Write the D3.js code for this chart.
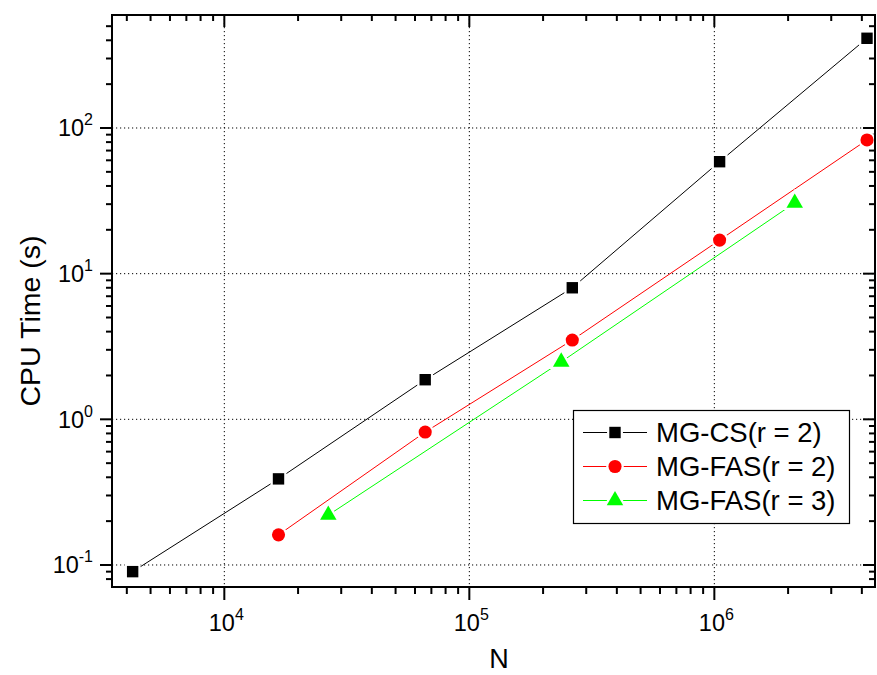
<!DOCTYPE html>
<html>
<head>
<meta charset="utf-8">
<script src="https://cdn.jsdelivr.net/npm/d3@7"></script>
<style>
  html, body { margin: 0; padding: 0; background: #fff; }
  svg { display: block; font-family: "Liberation Sans", Arial, sans-serif; }
</style>
</head>
<body>
<svg id="chart" width="877" height="675"></svg>
<script>
// ---- data ----
const nCS   = [4225, 16641, 66049, 263169, 1050625, 4198401];
const tCS   = [0.09, 0.39, 1.87, 8.0, 58.7, 413];
const nFAS2 = [16641, 66049, 263169, 1050625, 4198401];
const tFAS2 = [0.161, 0.818, 3.5, 17.0, 82.8];
const nFAS3 = [26569, 237169, 2128681];
const tFAS3 = [0.22, 2.48, 30.6];
const seriesNames = ["MG-CS(r = 2)", "MG-FAS(r = 2)", "MG-FAS(r = 3)"];
const xMajorExp = [4, 5, 6];
const yMajorExp = [-1, 0, 1, 2];
const xTitle = "N";
const yTitle = "CPU Time (s)";

// ---- layout ----
const W = 877, H = 675;
const L = 112, R = 875, T = 15, B = 587;
const svg = d3.select("#chart");

const x = d3.scaleLog().domain([3480, 4.526e6]).range([L, R]);
const y = d3.scaleLog().domain([0.0706, 596.7]).range([B, T]);

const series = [
  { name: seriesNames[0], n: nCS,   t: tCS,   color: "#000000", sym: d3.symbolSquare,   size: 130 },
  { name: seriesNames[1], n: nFAS2, t: tFAS2, color: "#ff0000", sym: d3.symbolCircle,   size: 135 },
  { name: seriesNames[2], n: nFAS3, t: tFAS3, color: "#00ff00", sym: d3.symbolTriangle, size: 118 }
];

// grid
const g = svg.append("g");
xMajorExp.forEach(e => {
  g.append("line").attr("x1", x(Math.pow(10, e))).attr("x2", x(Math.pow(10, e)))
    .attr("y1", T).attr("y2", B).attr("stroke", "#000").attr("stroke-width", 1)
    .attr("stroke-dasharray", "1.2,2.8");
});
yMajorExp.forEach(e => {
  g.append("line").attr("y1", y(Math.pow(10, e))).attr("y2", y(Math.pow(10, e)))
    .attr("x1", L).attr("x2", R).attr("stroke", "#000").attr("stroke-width", 1)
    .attr("stroke-dasharray", "1.2,2.8");
});

// ticks (major & minor)
function logTicks(dom) {
  const out = [];
  const lo = Math.floor(Math.log10(dom[0])), hi = Math.ceil(Math.log10(dom[1]));
  for (let e = lo; e <= hi; e++) {
    for (let m = 1; m <= 9; m++) {
      const v = m * Math.pow(10, e);
      if (v >= dom[0] * 0.9999 && v <= dom[1] * 1.0001) out.push({ v, major: m === 1 });
    }
  }
  return out;
}
const xt = logTicks(x.domain()), yt = logTicks(y.domain());
const axisG = svg.append("g").attr("stroke", "#000").attr("stroke-width", 2);
xt.forEach(d => {
  const len = d.major ? 13 : 7;
  const px = x(d.v);
  axisG.append("line").attr("x1", px).attr("x2", px).attr("y1", B).attr("y2", B + len); // bottom, outward
  axisG.append("line").attr("x1", px).attr("x2", px).attr("y1", T).attr("y2", T + len - 1); // top, inward
});
yt.forEach(d => {
  const len = d.major ? 12 : 6;
  const py = y(d.v);
  axisG.append("line").attr("y1", py).attr("y2", py).attr("x1", L).attr("x2", L - len); // left, outward
  axisG.append("line").attr("y1", py).attr("y2", py).attr("x1", R).attr("x2", R - len); // right, inward
});

// series lines
const line = d3.line().x(d => x(d[0])).y(d => y(d[1]));
const plot = svg.append("g");
series.forEach(s => {
  plot.append("path").datum(d3.zip(s.n, s.t)).attr("d", line)
    .attr("fill", "none").attr("stroke", s.color).attr("stroke-width", 1);
});
// markers with white halo (line gap)
series.forEach(s => {
  const sym = d3.symbol().type(s.sym).size(s.size);
  plot.selectAll(null).data(d3.zip(s.n, s.t)).enter().append("path")
    .attr("d", sym)
    .attr("transform", d => `translate(${x(d[0])},${y(d[1])})`)
    .attr("fill", s.color)
    .attr("stroke", "#fff").attr("stroke-width", 4.5)
    .attr("paint-order", "stroke");
});

// frame
svg.append("rect").attr("x", L).attr("y", T).attr("width", R - L).attr("height", B - T)
  .attr("fill", "none").attr("stroke", "#000").attr("stroke-width", 2);

// tick labels
const lab = svg.append("g").attr("fill", "#000");
xMajorExp.forEach(e => {
  const t = lab.append("text").attr("x", x(Math.pow(10, e)) + 2).attr("y", 631)
    .attr("text-anchor", "middle").attr("font-size", 23.5);
  t.append("tspan").text("10");
  t.append("tspan").attr("font-size", 16).attr("dy", -11).text(String(e));
});
yMajorExp.forEach(e => {
  const t = lab.append("text").attr("x", 93).attr("y", y(Math.pow(10, e)) + 8.5)
    .attr("text-anchor", "end").attr("font-size", 23.5);
  t.append("tspan").text("10");
  t.append("tspan").attr("font-size", 16).attr("dy", -11).text(String(e));
});

// axis titles
svg.append("text").attr("x", 499).attr("y", 668).attr("text-anchor", "middle")
  .attr("font-size", 27).text(xTitle);
svg.append("text").attr("transform", "translate(40,321) rotate(-90)")
  .attr("text-anchor", "middle").attr("font-size", 28.5).text(yTitle);

// legend
const lg = svg.append("g");
lg.append("rect").attr("x", 573.5).attr("y", 410.5).attr("width", 276).attr("height", 113)
  .attr("fill", "#fff").attr("stroke", "#000").attr("stroke-width", 1.2);
const rowY = [432.5, 466.5, 500.5];
series.forEach((s, i) => {
  const cy = rowY[i];
  lg.append("line").attr("x1", 583).attr("x2", 647).attr("y1", cy).attr("y2", cy)
    .attr("stroke", s.color).attr("stroke-width", 1);
  lg.append("path").attr("d", d3.symbol().type(s.sym).size(s.size))
    .attr("transform", `translate(615,${cy})`)
    .attr("fill", s.color).attr("stroke", "#fff").attr("stroke-width", 4.5)
    .attr("paint-order", "stroke");
  lg.append("text").attr("x", 656).attr("y", cy + 9.5).attr("font-size", 27.5).text(s.name);
});
</script>
</body>
</html>
